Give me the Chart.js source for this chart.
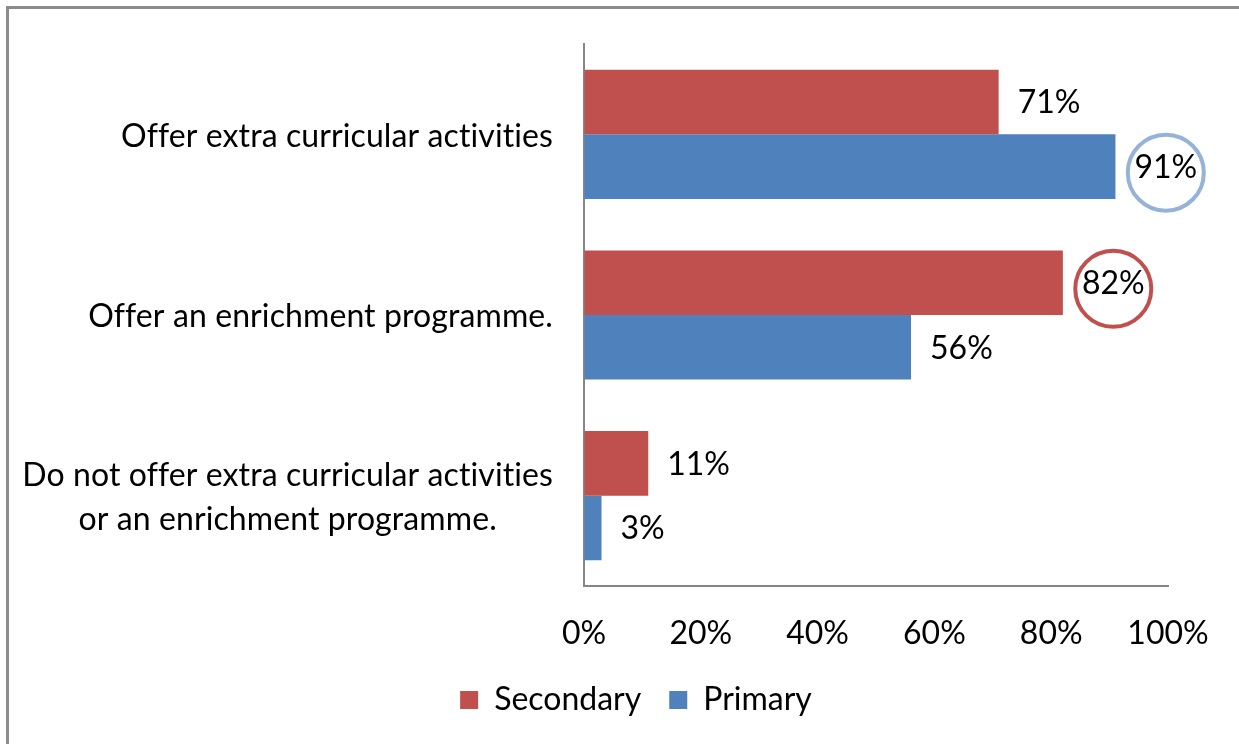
<!DOCTYPE html>
<html>
<head>
<meta charset="utf-8">
<script src="https://cdn.jsdelivr.net/npm/chart.js@4"></script>
<style>
  html, body { margin: 0; padding: 0; background: #fff; }
  #wrap { width: 1239px; height: 744px; position: relative; }
</style>
</head>
<body>
<div id="wrap"><canvas id="chart" width="1239" height="744"></canvas></div>
<script>
// data
var categories = [
  "Offer extra curricular activities",
  "Offer an enrichment programme.",
  ["Do not offer extra curricular activities", "or an enrichment programme."]
];
var seriesNames = ["Secondary", "Primary"];
var secondary = [71, 82, 11];
var primary = [91, 56, 3];
var xTicks = [0, 20, 40, 60, 80, 100];
// labels that are ringed in the picture: [series, category]
var circled = [[1, 0], [0, 1]];

var FONT = "Lato";
var FONT_SIZE = 32;
var red = "#C0504D";
var blue = "#4F81BD";
var ringColors = ["#C0504D", "#95B3D7"];

// grey frame round the picture
var framePlugin = {
  id: "frame",
  beforeDraw: function (chart) {
    var ctx = chart.ctx;
    ctx.save();
    ctx.fillStyle = "#fff";
    ctx.fillRect(0, 0, chart.width, chart.height);
    ctx.fillStyle = "#8c8c8c";
    ctx.fillRect(6, 6, chart.width - 6, 3);
    ctx.fillRect(6, 6, 3, chart.height - 6);
    ctx.restore();
  }
};

// category labels: block right-aligned to the axis, lines centred in the block
var catLabelPlugin = {
  id: "catLabels",
  afterDraw: function (chart) {
    var ctx = chart.ctx;
    var yScale = chart.scales.y;
    var right = chart.chartArea.left - 31;
    ctx.save();
    ctx.font = FONT_SIZE + "px " + FONT;
    // a tiny spacing keeps "ti" from turning into a ligature
    if ("letterSpacing" in ctx) ctx.letterSpacing = "0.1px";
    ctx.fillStyle = "#000";
    ctx.textAlign = "center";
    ctx.textBaseline = "middle";
    categories.forEach(function (label, i) {
      var lines = Array.isArray(label) ? label : [label];
      var maxW = 0;
      lines.forEach(function (l) { maxW = Math.max(maxW, ctx.measureText(l).width); });
      var y = yScale.getPixelForValue(i) + 2;
      var lineH = 44;
      lines.forEach(function (l, j) {
        ctx.fillText(l, right - maxW / 2, y + (j - (lines.length - 1) / 2) * lineH);
      });
    });
    ctx.restore();
  }
};

// value labels right of each bar, with rings on the highlighted ones
var valueLabelPlugin = {
  id: "valueLabels",
  afterDatasetsDraw: function (chart) {
    var ctx = chart.ctx;
    ctx.save();
    ctx.font = FONT_SIZE + "px " + FONT;
    ctx.fillStyle = "#000";
    ctx.textAlign = "left";
    ctx.textBaseline = "middle";
    chart.data.datasets.forEach(function (ds, di) {
      var meta = chart.getDatasetMeta(di);
      meta.data.forEach(function (bar, i) {
        var txt = ds.data[i] + "%";
        var x = bar.x + 19;
        ctx.fillText(txt, x, bar.y + 1);
        var ringed = circled.some(function (c) { return c[0] === di && c[1] === i; });
        if (ringed) {
          var w = ctx.measureText(txt).width;
          ctx.beginPath();
          ctx.lineWidth = 4;
          ctx.strokeStyle = ringColors[di];
          ctx.arc(x + w / 2, bar.y + 6, 38, 0, Math.PI * 2);
          ctx.stroke();
        }
      });
    });
    ctx.restore();
  }
};

new Chart(document.getElementById("chart"), {
  type: "bar",
  data: {
    labels: categories,
    datasets: [
      { label: seriesNames[0], data: secondary, backgroundColor: red,
        categoryPercentage: 0.715, barPercentage: 1 },
      { label: seriesNames[1], data: primary, backgroundColor: blue,
        categoryPercentage: 0.715, barPercentage: 1 }
    ]
  },
  options: {
    indexAxis: "y",
    responsive: false,
    animation: false,
    layout: { padding: { left: 104, right: 71, top: 44, bottom: 18 } },
    scales: {
      x: {
        min: xTicks[0],
        max: xTicks[xTicks.length - 1],
        afterBuildTicks: function (scale) {
          scale.ticks = xTicks.map(function (v) { return { value: v }; });
        },
        afterFit: function (scale) { scale.height = 70; },
        grid: { drawOnChartArea: false, drawTicks: false },
        border: { display: true, color: "#868686", width: 2 },
        ticks: {
          padding: 28,
          color: "#000",
          font: { family: FONT, size: FONT_SIZE },
          callback: function (v) { return v + "%"; }
        }
      },
      y: {
        afterFit: function (scale) { scale.width = 480; },
        grid: { drawOnChartArea: false, drawTicks: false },
        border: { display: true, color: "#868686", width: 2 },
        ticks: { display: false }
      }
    },
    plugins: {
      tooltip: { enabled: false },
      legend: {
        position: "bottom",
        labels: {
          boxWidth: 18,
          boxHeight: 18,
          padding: 28,
          color: "#000",
          font: { family: FONT, size: FONT_SIZE }
        }
      }
    }
  },
  plugins: [framePlugin, catLabelPlugin, valueLabelPlugin]
});
</script>
</body>
</html>
